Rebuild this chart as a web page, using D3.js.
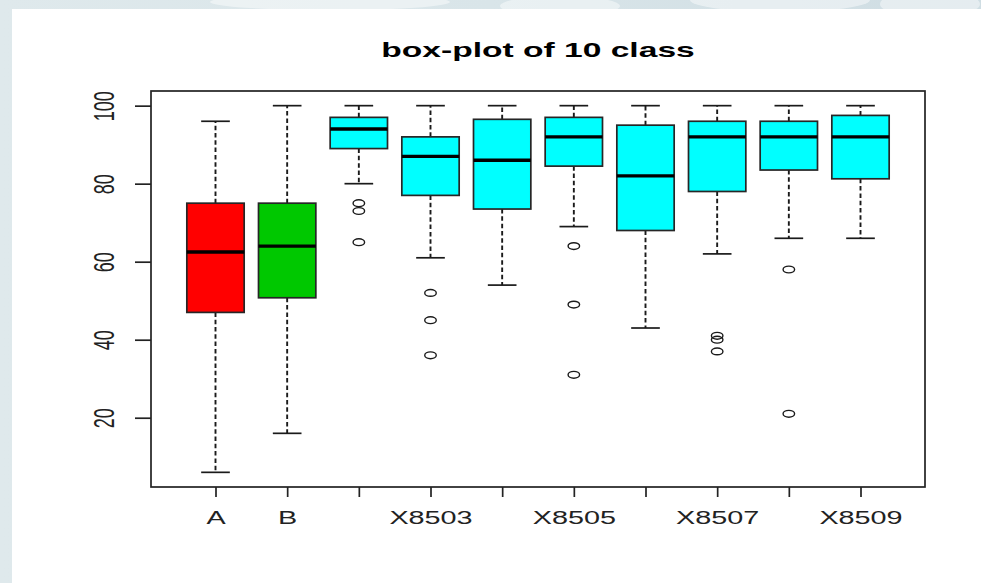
<!DOCTYPE html>
<html>
<head>
<meta charset="utf-8">
<script src="https://cdn.jsdelivr.net/npm/d3@7"></script>
<style>
  html, body { margin: 0; padding: 0; background: #ffffff; }
  svg { display: block; }
  text { font-family: "Liberation Sans", Arial, Helvetica, sans-serif; }
</style>
</head>
<body>
<svg id="chart" width="981" height="583"></svg>
<script>
// ---- data -------------------------------------------------------------
const categories   = ["A", "B", "X8502", "X8503", "X8504", "X8505", "X8506", "X8507", "X8508", "X8509"];
const lowerWhisker = [6, 16, 80, 61, 54, 69, 43, 62, 66, 66];
const lowerHinge   = [47, 50.75, 89, 77, 73.5, 84.5, 68, 78, 83.5, 81.25];
const medians      = [62.5, 64, 94, 87, 86, 92, 82, 92, 92, 92];
const upperHinge   = [75, 75, 97, 92, 96.5, 97, 95, 96, 96, 97.5];
const upperWhisker = [96, 100, 100, 100, 100, 100, 100, 100, 100, 100];
const outliers     = [[], [], [75, 73, 65], [52, 45, 36], [], [64, 49, 31], [], [41, 40, 37], [58, 21], []];
const yTicks       = [20, 40, 60, 80, 100];
const boxFills     = ["#ff0000", "#00c800", "#00ffff", "#00ffff", "#00ffff", "#00ffff", "#00ffff", "#00ffff", "#00ffff", "#00ffff"];
const title        = "box-plot of 10 class";

// ---- layout -----------------------------------------------------------
const W = 981, H = 583;
const plot = { left: 151, right: 925, top: 91, bottom: 487 };
const SX = 1.6;          // horizontal stretch of glyphs and symbols
const ink = "#1a1a1a";
const lw = 1.7;

const svg = d3.select("#chart");

// backdrop: tinted frame with a few soft highlights, white canvas on top
const defs = svg.append("defs");
const grad = defs.append("linearGradient").attr("id", "bg").attr("x1", 0).attr("x2", 1).attr("y1", 0).attr("y2", 0);
grad.append("stop").attr("offset", "0%").attr("stop-color", "#dfe9ec");
grad.append("stop").attr("offset", "50%").attr("stop-color", "#d9e5e9");
grad.append("stop").attr("offset", "100%").attr("stop-color", "#cfdde3");
svg.append("rect").attr("width", W).attr("height", H).attr("fill", "url(#bg)");
const glints = [[330, 2, 120, 8], [560, 6, 60, 10], [780, 0, 90, 12], [930, 4, 50, 14]];
svg.append("g").selectAll("ellipse").data(glints).join("ellipse")
  .attr("cx", d => d[0]).attr("cy", d => d[1]).attr("rx", d => d[2]).attr("ry", d => d[3])
  .attr("fill", "#ffffff").attr("opacity", 0.45);
svg.append("rect").attr("x", 12).attr("y", 9).attr("width", W - 12).attr("height", H - 9).attr("fill", "#ffffff");

// ---- scales -----------------------------------------------------------
const n = categories.length;
const xPad = 0.04 * n;
const x = d3.scaleLinear().domain([0.5 - xPad, n + 0.5 + xPad]).range([plot.left, plot.right]);

const allValues = lowerWhisker.concat(upperWhisker, outliers.flat());
const [vMin, vMax] = d3.extent(allValues);
const yPad = 0.04 * (vMax - vMin);
const y = d3.scaleLinear().domain([vMin - yPad, vMax + yPad]).range([plot.bottom, plot.top]);

const unit = x(1) - x(0);
const boxW = 0.8 * unit;
const capW = 0.4 * unit;

const boxes = categories.map((c, i) => ({
  name: c, pos: i + 1,
  lo: lowerWhisker[i], q1: lowerHinge[i], med: medians[i], q3: upperHinge[i], hi: upperWhisker[i],
  out: outliers[i], fill: boxFills[i]
}));

// ---- boxes ------------------------------------------------------------
const g = svg.append("g");
const bx = g.selectAll("g.box").data(boxes).join("g").attr("class", "box");

// dashed whiskers
bx.append("line")
  .attr("x1", d => x(d.pos)).attr("x2", d => x(d.pos))
  .attr("y1", d => y(d.q3)).attr("y2", d => y(d.hi))
  .attr("stroke", ink).attr("stroke-width", 1.9).attr("stroke-dasharray", "4.5,2.8");
bx.append("line")
  .attr("x1", d => x(d.pos)).attr("x2", d => x(d.pos))
  .attr("y1", d => y(d.q1)).attr("y2", d => y(d.lo))
  .attr("stroke", ink).attr("stroke-width", 1.9).attr("stroke-dasharray", "4.5,2.8");
// staples
["lo", "hi"].forEach(k => {
  bx.append("line")
    .attr("x1", d => x(d.pos) - capW / 2).attr("x2", d => x(d.pos) + capW / 2)
    .attr("y1", d => y(d[k])).attr("y2", d => y(d[k]))
    .attr("stroke", ink).attr("stroke-width", lw);
});
// hinge box
bx.append("rect")
  .attr("x", d => x(d.pos) - boxW / 2).attr("width", boxW)
  .attr("y", d => y(d.q3)).attr("height", d => y(d.q1) - y(d.q3))
  .attr("fill", d => d.fill).attr("stroke", "#262626").attr("stroke-width", lw);
// median
bx.append("line")
  .attr("x1", d => x(d.pos) - boxW / 2).attr("x2", d => x(d.pos) + boxW / 2)
  .attr("y1", d => y(d.med)).attr("y2", d => y(d.med))
  .attr("stroke", "#000").attr("stroke-width", 3.4);
// outliers
bx.selectAll("ellipse").data(d => d.out.map(v => ({ pos: d.pos, v }))).join("ellipse")
  .attr("cx", d => x(d.pos)).attr("cy", d => y(d.v))
  .attr("rx", 3.6 * SX).attr("ry", 3.4)
  .attr("fill", "none").attr("stroke", ink).attr("stroke-width", 1.4);

// ---- frame and axes -----------------------------------------------------
svg.append("rect")
  .attr("x", plot.left).attr("y", plot.top)
  .attr("width", plot.right - plot.left).attr("height", plot.bottom - plot.top)
  .attr("fill", "none").attr("stroke", "#222").attr("stroke-width", lw);

// left axis
const yAxis = svg.append("g").attr("transform", `translate(${plot.left},0)`)
  .call(d3.axisLeft(y).tickValues(yTicks).tickSize(16).tickFormat(d3.format("d")));
yAxis.select(".domain").remove();
yAxis.selectAll(".tick line").attr("stroke", "#222").attr("stroke-width", lw);
yAxis.selectAll(".tick text")
  .attr("x", null).attr("dy", null)
  .attr("text-anchor", "middle")
  .attr("font-size", 18).attr("fill", "#222")
  .attr("transform", `translate(-37,0) scale(${SX},1) rotate(-90)`);

// bottom axis: draw every tick, then keep only labels that leave room
const xAxis = svg.append("g").attr("transform", `translate(0,${plot.bottom})`)
  .call(d3.axisBottom(x).tickValues(boxes.map(d => d.pos)).tickSize(10)
    .tickFormat(p => categories[p - 1]));
xAxis.select(".domain").remove();
xAxis.selectAll(".tick line").attr("stroke", "#222").attr("stroke-width", lw);
const xLabels = xAxis.selectAll(".tick text")
  .attr("y", null).attr("dy", null)
  .attr("font-size", 18).attr("fill", "#222")
  .attr("transform", `translate(0,37) scale(${SX},1)`);

const mWidth = (() => {
  const t = svg.append("text").attr("font-size", 18).text("m");
  const w = t.node().getComputedTextLength() * SX;
  t.remove();
  return w;
})();
let lastRight = -Infinity;
xLabels.each(function (p) {
  const half = this.getComputedTextLength() * SX / 2;
  const cx = x(p);
  if (cx - half < lastRight + mWidth) {
    d3.select(this).remove();
  } else {
    lastRight = cx + half;
  }
});

// title
svg.append("text")
  .attr("transform", `translate(${(plot.left + plot.right) / 2},57) scale(${SX},1)`)
  .attr("text-anchor", "middle")
  .attr("font-size", 21).attr("font-weight", "bold").attr("fill", "#000")
  .text(title);
</script>
</body>
</html>
